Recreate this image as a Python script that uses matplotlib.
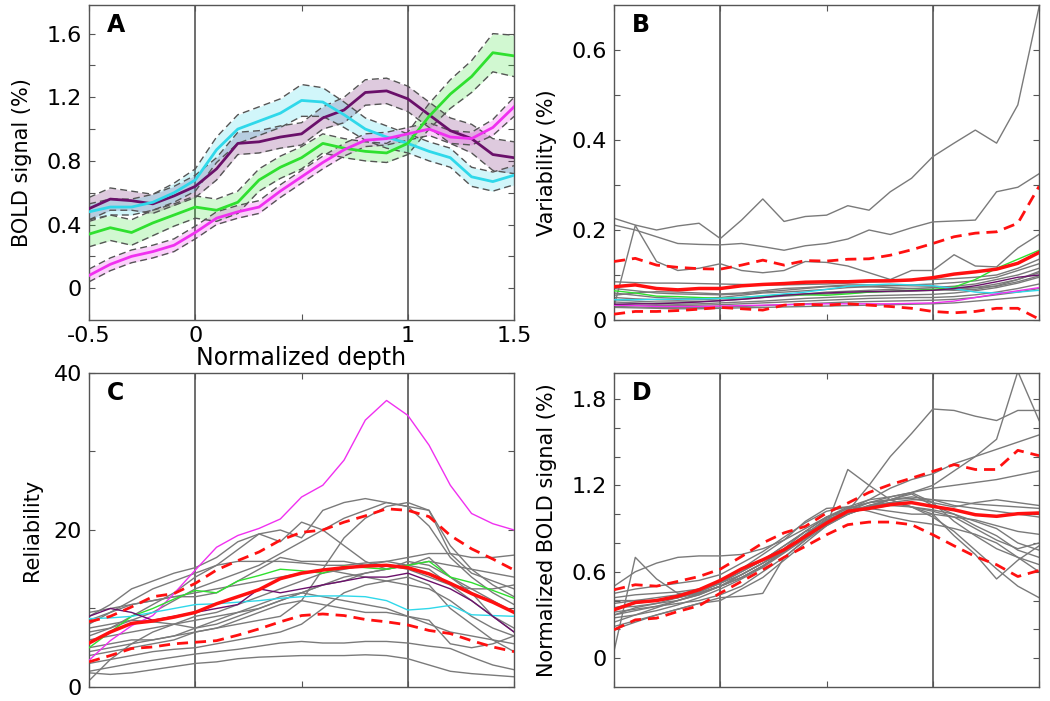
import numpy as np
import matplotlib
matplotlib.use('Agg')
import matplotlib.pyplot as plt

plt.rcParams['font.family'] = ['DejaVu Sans']

# normalized depth, 21 samples
depth = [-0.5, -0.4, -0.3, -0.2, -0.1, 0.0, 0.1, 0.2, 0.3, 0.4, 0.5,
         0.6, 0.7, 0.8, 0.9, 1.0, 1.1, 1.2, 1.3, 1.4, 1.5]

# ---- panel A: mean BOLD signal for four subjects (+/- SE)
a_purple = [0.50, 0.56, 0.55, 0.53, 0.58, 0.64, 0.75, 0.91, 0.92, 0.95, 0.97,
            1.07, 1.12, 1.23, 1.24, 1.19, 1.09, 0.99, 0.94, 0.84, 0.82]
a_purple_se = [0.07, 0.07, 0.06, 0.06, 0.06, 0.07, 0.07, 0.07, 0.07, 0.07, 0.07,
               0.07, 0.08, 0.08, 0.08, 0.08, 0.08, 0.08, 0.09, 0.10, 0.10]
a_cyan = [0.48, 0.51, 0.51, 0.54, 0.60, 0.68, 0.87, 1.00, 1.05, 1.10, 1.18,
          1.17, 1.09, 1.00, 0.95, 0.91, 0.86, 0.82, 0.70, 0.67, 0.71]
a_cyan_se = [0.05, 0.05, 0.05, 0.05, 0.06, 0.07, 0.08, 0.09, 0.09, 0.09, 0.10,
             0.09, 0.08, 0.07, 0.07, 0.06, 0.06, 0.06, 0.06, 0.06, 0.06]
a_green = [0.34, 0.38, 0.35, 0.41, 0.46, 0.51, 0.49, 0.54, 0.68, 0.76, 0.82,
           0.91, 0.88, 0.86, 0.85, 0.91, 1.08, 1.22, 1.33, 1.48, 1.46]
a_green_se = [0.08, 0.08, 0.08, 0.08, 0.07, 0.07, 0.07, 0.07, 0.07, 0.07, 0.07,
              0.06, 0.06, 0.06, 0.06, 0.07, 0.08, 0.09, 0.10, 0.12, 0.13]
a_magenta = [0.08, 0.15, 0.20, 0.23, 0.27, 0.35, 0.44, 0.48, 0.51, 0.61, 0.70,
             0.79, 0.87, 0.93, 0.94, 0.97, 1.00, 0.95, 0.94, 1.01, 1.14]
a_magenta_se = [0.04, 0.04, 0.04, 0.04, 0.04, 0.04, 0.04, 0.04, 0.04, 0.04, 0.04,
                0.04, 0.04, 0.04, 0.04, 0.04, 0.04, 0.04, 0.04, 0.05, 0.06]

# ---- panel B: variability
b_gray = [
    [0.226, 0.211, 0.200, 0.209, 0.215, 0.181, 0.222, 0.269, 0.219, 0.230, 0.233,
     0.254, 0.244, 0.285, 0.315, 0.363, 0.393, 0.422, 0.393, 0.478, 0.696],
    [0.211, 0.200, 0.185, 0.170, 0.168, 0.167, 0.170, 0.163, 0.155, 0.165, 0.170,
     0.180, 0.200, 0.190, 0.205, 0.218, 0.220, 0.222, 0.285, 0.295, 0.325],
    [0.030, 0.210, 0.130, 0.110, 0.115, 0.125, 0.110, 0.105, 0.110, 0.130, 0.128,
     0.120, 0.105, 0.090, 0.110, 0.110, 0.145, 0.120, 0.118, 0.160, 0.190],
    [0.085, 0.083, 0.082, 0.082, 0.081, 0.080, 0.079, 0.078, 0.078, 0.079, 0.080,
     0.082, 0.084, 0.086, 0.088, 0.090, 0.092, 0.095, 0.100, 0.115, 0.135],
    [0.060, 0.055, 0.050, 0.048, 0.048, 0.050, 0.055, 0.060, 0.062, 0.065, 0.068,
     0.072, 0.074, 0.076, 0.078, 0.080, 0.083, 0.087, 0.095, 0.110, 0.125],
    [0.050, 0.047, 0.045, 0.044, 0.045, 0.047, 0.050, 0.052, 0.055, 0.058, 0.062,
     0.064, 0.066, 0.068, 0.070, 0.072, 0.075, 0.080, 0.090, 0.100, 0.115],
    [0.045, 0.042, 0.040, 0.040, 0.041, 0.043, 0.046, 0.050, 0.053, 0.056, 0.058,
     0.060, 0.062, 0.063, 0.064, 0.066, 0.068, 0.072, 0.080, 0.090, 0.105],
    [0.040, 0.038, 0.036, 0.035, 0.036, 0.038, 0.040, 0.042, 0.045, 0.048, 0.050,
     0.052, 0.054, 0.055, 0.056, 0.057, 0.060, 0.065, 0.072, 0.082, 0.095],
    [0.035, 0.033, 0.032, 0.032, 0.033, 0.034, 0.036, 0.038, 0.040, 0.042, 0.044,
     0.046, 0.048, 0.049, 0.050, 0.050, 0.052, 0.056, 0.062, 0.070, 0.080],
    [0.030, 0.029, 0.028, 0.028, 0.028, 0.029, 0.030, 0.032, 0.034, 0.036, 0.038,
     0.040, 0.041, 0.042, 0.043, 0.044, 0.046, 0.050, 0.056, 0.062, 0.070],
    [0.028, 0.027, 0.026, 0.025, 0.025, 0.026, 0.027, 0.028, 0.029, 0.030, 0.031,
     0.032, 0.033, 0.034, 0.035, 0.036, 0.038, 0.042, 0.046, 0.050, 0.055],
    [0.055, 0.060, 0.063, 0.062, 0.060, 0.058, 0.060, 0.065, 0.070, 0.072, 0.075,
     0.078, 0.078, 0.077, 0.076, 0.075, 0.073, 0.072, 0.075, 0.085, 0.098],
    [0.070, 0.065, 0.060, 0.058, 0.057, 0.056, 0.058, 0.062, 0.066, 0.070, 0.074,
     0.075, 0.074, 0.072, 0.070, 0.068, 0.066, 0.068, 0.076, 0.090, 0.108],
]
b_green = [0.065, 0.060, 0.053, 0.052, 0.050, 0.048, 0.050, 0.053, 0.056, 0.056, 0.055,
           0.058, 0.062, 0.064, 0.066, 0.068, 0.073, 0.090, 0.115, 0.135, 0.155]
b_cyan = [0.045, 0.045, 0.046, 0.046, 0.047, 0.048, 0.050, 0.054, 0.058, 0.062, 0.068,
          0.075, 0.078, 0.080, 0.078, 0.076, 0.070, 0.062, 0.060, 0.062, 0.066]
b_magenta = [0.033, 0.032, 0.030, 0.030, 0.030, 0.031, 0.032, 0.033, 0.034, 0.035, 0.036,
             0.036, 0.036, 0.036, 0.037, 0.038, 0.042, 0.050, 0.058, 0.065, 0.072]
b_purple = [0.035, 0.036, 0.036, 0.038, 0.040, 0.043, 0.046, 0.050, 0.055, 0.058, 0.060,
            0.062, 0.063, 0.064, 0.065, 0.066, 0.070, 0.076, 0.085, 0.095, 0.100]
b_mean = [0.074, 0.078, 0.070, 0.067, 0.070, 0.070, 0.076, 0.079, 0.081, 0.084, 0.085,
          0.085, 0.087, 0.087, 0.089, 0.094, 0.102, 0.107, 0.113, 0.126, 0.150]
b_upper = [0.130, 0.137, 0.122, 0.117, 0.114, 0.113, 0.122, 0.133, 0.122, 0.132, 0.131,
           0.135, 0.136, 0.144, 0.156, 0.170, 0.185, 0.193, 0.196, 0.215, 0.297]
b_lower = [0.013, 0.019, 0.019, 0.021, 0.024, 0.028, 0.025, 0.022, 0.033, 0.035, 0.033,
           0.036, 0.033, 0.030, 0.026, 0.019, 0.016, 0.019, 0.026, 0.026, 0.002]

# ---- panel C: reliability
c_gray = [
    [1.8, 1.6, 1.8, 2.2, 2.6, 3.0, 3.2, 3.6, 3.8, 3.9, 4.0, 4.0, 4.0, 4.1, 4.0, 3.6, 2.8, 2.0, 1.7, 1.5, 1.3],
    [2.0, 2.5, 3.0, 3.4, 3.8, 4.2, 4.5, 4.8, 5.2, 5.6, 5.8, 5.6, 5.6, 5.8, 5.8, 5.6, 5.2, 4.9, 3.8, 2.8, 2.2],
    [0.8, 3.5, 5.5, 7.0, 8.0, 9.0, 9.5, 10.5, 11.5, 12.5, 13.5, 14.5, 15.0, 15.5, 16.0, 15.5, 15.0, 13.0, 11.0, 9.0, 7.5],
    [7.0, 7.5, 8.5, 9.5, 11.0, 12.5, 13.5, 14.5, 15.5, 17.0, 18.5, 20.0, 21.5, 22.5, 23.5, 23.0, 22.5, 18.0, 15.0, 13.0, 11.5],
    [6.5, 7.5, 9.0, 10.5, 12.0, 14.0, 15.5, 17.5, 19.5, 20.0, 19.0, 22.5, 23.5, 24.0, 23.5, 23.0, 20.5, 16.5, 14.0, 12.0, 10.5],
    [4.0, 4.5, 5.0, 5.5, 6.0, 7.0, 7.5, 8.0, 8.5, 9.0, 11.0, 15.0, 19.0, 21.5, 23.0, 23.5, 22.5, 17.0, 14.5, 13.5, 12.5],
    [8.0, 9.5, 11.0, 12.5, 13.5, 14.5, 15.5, 16.0, 16.0, 16.0, 15.8, 15.5, 15.5, 15.8, 16.0, 16.5, 17.0, 17.0, 16.5, 16.5, 16.8],
    [9.0, 10.5, 12.5, 13.5, 14.5, 15.2, 16.5, 18.5, 19.5, 18.5, 21.0, 20.0, 18.0, 16.0, 15.0, 15.5, 16.0, 15.5, 15.0, 14.5, 14.0],
    [8.5, 9.5, 10.5, 11.0, 11.5, 12.0, 12.5, 13.0, 13.5, 14.0, 14.5, 15.0, 14.5, 14.0, 13.5, 13.0, 12.5, 11.0, 9.0, 7.5, 6.5],
    [6.0, 6.5, 7.0, 7.5, 8.0, 8.5, 9.0, 9.5, 10.0, 11.0, 12.0, 13.0, 14.0, 14.5, 15.0, 15.5, 16.5, 14.0, 12.5, 11.0, 9.5],
    [5.0, 5.5, 6.0, 6.0, 6.5, 7.5, 8.5, 9.5, 10.5, 11.5, 12.0, 11.5, 11.0, 10.5, 10.0, 9.0, 8.0, 7.0, 6.5, 6.0, 5.5],
    [3.0, 3.5, 4.0, 4.5, 4.8, 5.0, 5.5, 6.0, 6.5, 7.0, 8.0, 10.0, 12.0, 13.0, 13.5, 14.0, 13.0, 10.0, 8.0, 6.0, 4.5],
    [7.5, 8.0, 8.5, 8.3, 8.0, 7.5, 8.0, 9.0, 10.0, 11.0, 12.0, 13.0, 13.5, 14.5, 15.0, 16.0, 15.5, 14.0, 12.0, 9.0, 7.0],
    [4.5, 5.0, 5.5, 6.0, 6.5, 7.0, 7.5, 8.5, 9.5, 10.5, 11.0, 10.5, 10.0, 9.5, 9.5, 9.0, 8.5, 5.5, 5.0, 5.5, 6.5],
    [9.5, 10.0, 10.5, 11.0, 11.5, 11.5, 12.0, 13.5, 15.0, 16.5, 16.0, 16.0, 16.0, 15.5, 15.5, 15.0, 14.0, 13.0, 12.5, 12.5, 13.0],
]
c_magenta = [3.4, 5.9, 7.8, 9.1, 11.9, 14.9, 17.8, 19.3, 20.2, 21.4, 24.2,
             25.7, 28.9, 34.0, 36.5, 34.6, 30.8, 25.7, 22.1, 20.8, 20.0]
c_cyan = [8.7, 8.8, 9.0, 9.5, 10.0, 10.5, 10.6, 10.8, 11.0, 11.3, 11.5,
          11.6, 11.6, 11.5, 11.0, 9.8, 10.0, 10.4, 9.2, 9.1, 9.0]
c_green = [5.0, 7.0, 9.0, 10.0, 11.2, 12.3, 12.0, 13.5, 14.2, 15.0, 14.8,
           14.5, 15.4, 15.2, 15.0, 15.5, 16.0, 14.0, 13.3, 12.3, 11.3]
c_purple = [9.0, 10.0, 9.5, 8.5, 9.0, 9.5, 10.0, 10.5, 12.5, 12.0, 12.5,
            13.0, 13.5, 14.0, 14.0, 14.5, 13.5, 12.5, 11.0, 9.0, 7.0]
c_mean = [5.6, 7.0, 8.1, 8.4, 8.9, 9.5, 10.6, 11.5, 12.4, 13.8, 14.5,
          14.9, 15.2, 15.4, 15.5, 15.2, 14.4, 13.2, 11.9, 10.8, 9.5]
c_upper = [8.3, 9.0, 10.2, 11.5, 11.9, 13.2, 14.9, 16.1, 17.2, 18.7, 19.7,
           20.0, 21.0, 21.8, 22.7, 22.5, 21.7, 19.3, 17.6, 16.3, 14.9]
c_lower = [3.2, 4.0, 4.9, 5.1, 5.5, 5.7, 5.9, 6.6, 7.4, 8.3, 9.1,
           9.3, 9.1, 8.6, 8.3, 7.9, 7.2, 6.8, 5.9, 5.1, 4.5]

# ---- panel D: normalized BOLD signal
d_gray = [
    [0.30, 0.35, 0.38, 0.42, 0.46, 0.52, 0.60, 0.68, 0.78, 0.88, 0.98, 1.05, 1.10, 1.12, 1.15, 1.20, 1.30, 1.40, 1.52, 1.99, 1.65],
    [0.25, 0.30, 0.35, 0.40, 0.45, 0.50, 0.58, 0.66, 0.75, 0.85, 0.95, 1.02, 1.20, 1.40, 1.56, 1.73, 1.72, 1.68, 1.65, 1.72, 1.72],
    [0.50, 0.60, 0.66, 0.70, 0.71, 0.71, 0.72, 0.76, 0.82, 0.90, 0.98, 1.02, 1.04, 1.06, 1.05, 1.03, 1.00, 0.95, 0.90, 0.80, 0.75],
    [0.05, 0.70, 0.55, 0.45, 0.45, 0.50, 0.58, 0.66, 0.74, 0.84, 0.94, 1.00, 1.05, 1.08, 1.10, 1.10, 1.09, 1.07, 1.06, 1.05, 1.04],
    [0.40, 0.40, 0.40, 0.42, 0.46, 0.52, 0.58, 0.66, 0.76, 0.88, 0.92, 1.31, 1.20, 1.10, 1.05, 1.02, 0.98, 0.90, 0.82, 0.76, 0.80],
    [0.35, 0.38, 0.40, 0.42, 0.45, 0.50, 0.56, 0.64, 0.74, 0.86, 0.96, 1.02, 1.06, 1.08, 1.05, 0.98, 0.88, 0.75, 0.62, 0.50, 0.42],
    [0.30, 0.33, 0.36, 0.40, 0.44, 0.50, 0.56, 0.64, 0.74, 0.84, 0.95, 1.03, 1.10, 1.18, 1.24, 1.28, 1.35, 1.40, 1.45, 1.50, 1.55],
    [0.38, 0.40, 0.42, 0.44, 0.48, 0.53, 0.60, 0.68, 0.78, 0.88, 0.98, 1.04, 1.08, 1.12, 1.15, 1.18, 1.20, 1.22, 1.24, 1.27, 1.30],
    [0.35, 0.36, 0.38, 0.40, 0.44, 0.50, 0.56, 0.64, 0.74, 0.86, 0.97, 1.04, 1.08, 1.10, 1.05, 1.00, 0.85, 0.72, 0.55, 0.68, 0.78],
    [0.20, 0.25, 0.30, 0.34, 0.38, 0.42, 0.43, 0.45, 0.70, 0.82, 0.96, 1.02, 1.08, 1.10, 1.11, 1.08, 0.95, 0.85, 0.76, 0.70, 0.65],
    [0.42, 0.44, 0.45, 0.46, 0.48, 0.52, 0.62, 0.72, 0.82, 0.95, 1.04, 1.05, 1.02, 0.98, 0.95, 0.93, 0.90, 0.86, 0.80, 0.70, 0.60],
    [0.28, 0.30, 0.33, 0.37, 0.42, 0.48, 0.55, 0.63, 0.73, 0.83, 0.93, 1.00, 1.05, 1.10, 1.15, 1.08, 1.05, 1.08, 1.10, 1.08, 1.06],
    [0.45, 0.48, 0.50, 0.52, 0.54, 0.58, 0.66, 0.74, 0.84, 0.94, 1.02, 1.05, 1.04, 1.02, 1.00, 1.00, 0.98, 0.96, 0.92, 0.88, 0.86],
    [0.22, 0.26, 0.30, 0.34, 0.38, 0.40, 0.48, 0.56, 0.68, 0.80, 0.92, 1.00, 1.06, 1.10, 1.14, 1.06, 1.00, 0.92, 0.85, 0.75, 0.70],
    [0.32, 0.34, 0.36, 0.38, 0.40, 0.44, 0.50, 0.60, 0.70, 0.82, 0.92, 1.00, 1.06, 1.10, 1.12, 1.10, 1.06, 1.04, 1.02, 1.00, 0.98],
]
d_mean = [0.336, 0.387, 0.400, 0.430, 0.475, 0.540, 0.620, 0.683, 0.753, 0.845, 0.938,
          1.020, 1.040, 1.066, 1.080, 1.054, 1.030, 0.996, 0.985, 1.003, 1.008]
d_upper = [0.475, 0.510, 0.500, 0.533, 0.567, 0.618, 0.706, 0.800, 0.870, 0.915, 1.008,
           1.077, 1.151, 1.205, 1.250, 1.297, 1.344, 1.310, 1.310, 1.443, 1.406]
d_lower = [0.197, 0.266, 0.278, 0.324, 0.364, 0.452, 0.533, 0.614, 0.700, 0.776, 0.857,
           0.927, 0.945, 0.945, 0.927, 0.857, 0.780, 0.706, 0.649, 0.567, 0.609]

c_pur = '#6a106a'
c_cy = '#2fd8ea'
c_gr = '#2fe02f'
c_mg = '#f030f0'
gray = '#7a7a7a'
red = '#ff1010'

fig = plt.figure(figsize=(10.5, 7.01), dpi=100)
axA = fig.add_axes([0.0848, 0.5435, 0.4048, 0.4494])
axB = fig.add_axes([0.5848, 0.5435, 0.4048, 0.4494])
axC = fig.add_axes([0.0848, 0.0200, 0.4048, 0.4479])
axD = fig.add_axes([0.5848, 0.0200, 0.4048, 0.4479])

def style(ax, ylim, ticks, labels, letter):
    ax.set_xlim(-0.5, 1.5)
    ax.set_ylim(*ylim)
    ax.set_xticks([-0.5, 0, 0.5, 1, 1.5])
    ax.set_xticklabels([])
    ax.set_yticks(ticks)
    ax.set_yticklabels(labels)
    ax.tick_params(direction='in', length=4, width=0.8, color='#555555',
                   top=True, right=True, labelsize=16, pad=5)
    for s in ax.spines.values():
        s.set_color('#555555')
        s.set_linewidth(1.0)
    ax.axvline(0, color='#555555', lw=1.2, zorder=1)
    ax.axvline(1, color='#555555', lw=1.2, zorder=1)
    ax.text(0.042, 0.935, letter, transform=ax.transAxes, fontsize=17,
            fontweight='bold', va='center', ha='left')

x = np.array(depth)

# A
for m, se, col in [(a_purple, a_purple_se, c_pur), (a_cyan, a_cyan_se, c_cy),
                   (a_green, a_green_se, c_gr), (a_magenta, a_magenta_se, c_mg)]:
    m = np.array(m)
    se = np.array(se)
    axA.fill_between(x, m - se, m + se, color=col, alpha=0.22, lw=0, zorder=2)
    axA.plot(x, m + se, color='#555555', lw=1, ls=(0, (5, 3)), zorder=3)
    axA.plot(x, m - se, color='#555555', lw=1, ls=(0, (5, 3)), zorder=3)
    axA.plot(x, m, color=col, lw=2, zorder=4)
style(axA, (-0.2, 1.78), np.arange(0, 1.61, 0.2),
      ['0', '', '0.4', '', '0.8', '', '1.2', '', '1.6'], 'A')
axA.set_xticklabels(['-0.5', '0', '', '1', '1.5'])
axA.tick_params(axis='x', labelsize=16, pad=4)
axA.set_xlabel('Normalized depth', fontsize=17, labelpad=0)
axA.set_ylabel('BOLD signal (%)', fontsize=15)
axA.yaxis.set_label_coords(-0.135, 0.5)

# B
for g in b_gray:
    axB.plot(x, g, color=gray, lw=1, zorder=2)
for g, col in [(b_green, c_gr), (b_cyan, c_cy), (b_magenta, c_mg), (b_purple, c_pur)]:
    axB.plot(x, g, color=col, lw=1, zorder=3)
axB.plot(x, b_mean, color=red, lw=2.5, zorder=5)
axB.plot(x, b_upper, color=red, lw=2, ls=(0, (4, 2.5)), zorder=5)
axB.plot(x, b_lower, color=red, lw=2, ls=(0, (4, 2.5)), zorder=5)
style(axB, (0, 0.7), np.arange(0, 0.61, 0.1),
      ['0', '', '0.2', '', '0.4', '', '0.6'], 'B')
axB.set_ylabel('Variability (%)', fontsize=15)
axB.yaxis.set_label_coords(-0.135, 0.5)

# C
for g in c_gray:
    axC.plot(x, g, color=gray, lw=1, zorder=2)
for g, col in [(c_magenta, c_mg), (c_green, c_gr), (c_cyan, c_cy), (c_purple, c_pur)]:
    axC.plot(x, g, color=col, lw=1, zorder=3)
axC.plot(x, c_mean, color=red, lw=2.5, zorder=5)
axC.plot(x, c_upper, color=red, lw=2, ls=(0, (4, 2.5)), zorder=5)
axC.plot(x, c_lower, color=red, lw=2, ls=(0, (4, 2.5)), zorder=5)
style(axC, (0, 40), [0, 10, 20, 30, 40], ['0', '', '20', '', '40'], 'C')
axC.set_ylabel('Reliability', fontsize=15)
axC.yaxis.set_label_coords(-0.11, 0.5)

# D
for g in d_gray:
    axD.plot(x, g, color=gray, lw=1, zorder=2)
axD.plot(x, d_mean, color=red, lw=2.5, zorder=5)
axD.plot(x, d_upper, color=red, lw=2, ls=(0, (4, 2.5)), zorder=5)
axD.plot(x, d_lower, color=red, lw=2, ls=(0, (4, 2.5)), zorder=5)
style(axD, (-0.2, 1.98), np.arange(0, 1.81, 0.2),
      ['0', '', '', '0.6', '', '', '1.2', '', '', '1.8'], 'D')
axD.set_ylabel('Normalized BOLD signal (%)', fontsize=15)
axD.yaxis.set_label_coords(-0.135, 0.5)

plt.savefig('out.png', dpi=100)
